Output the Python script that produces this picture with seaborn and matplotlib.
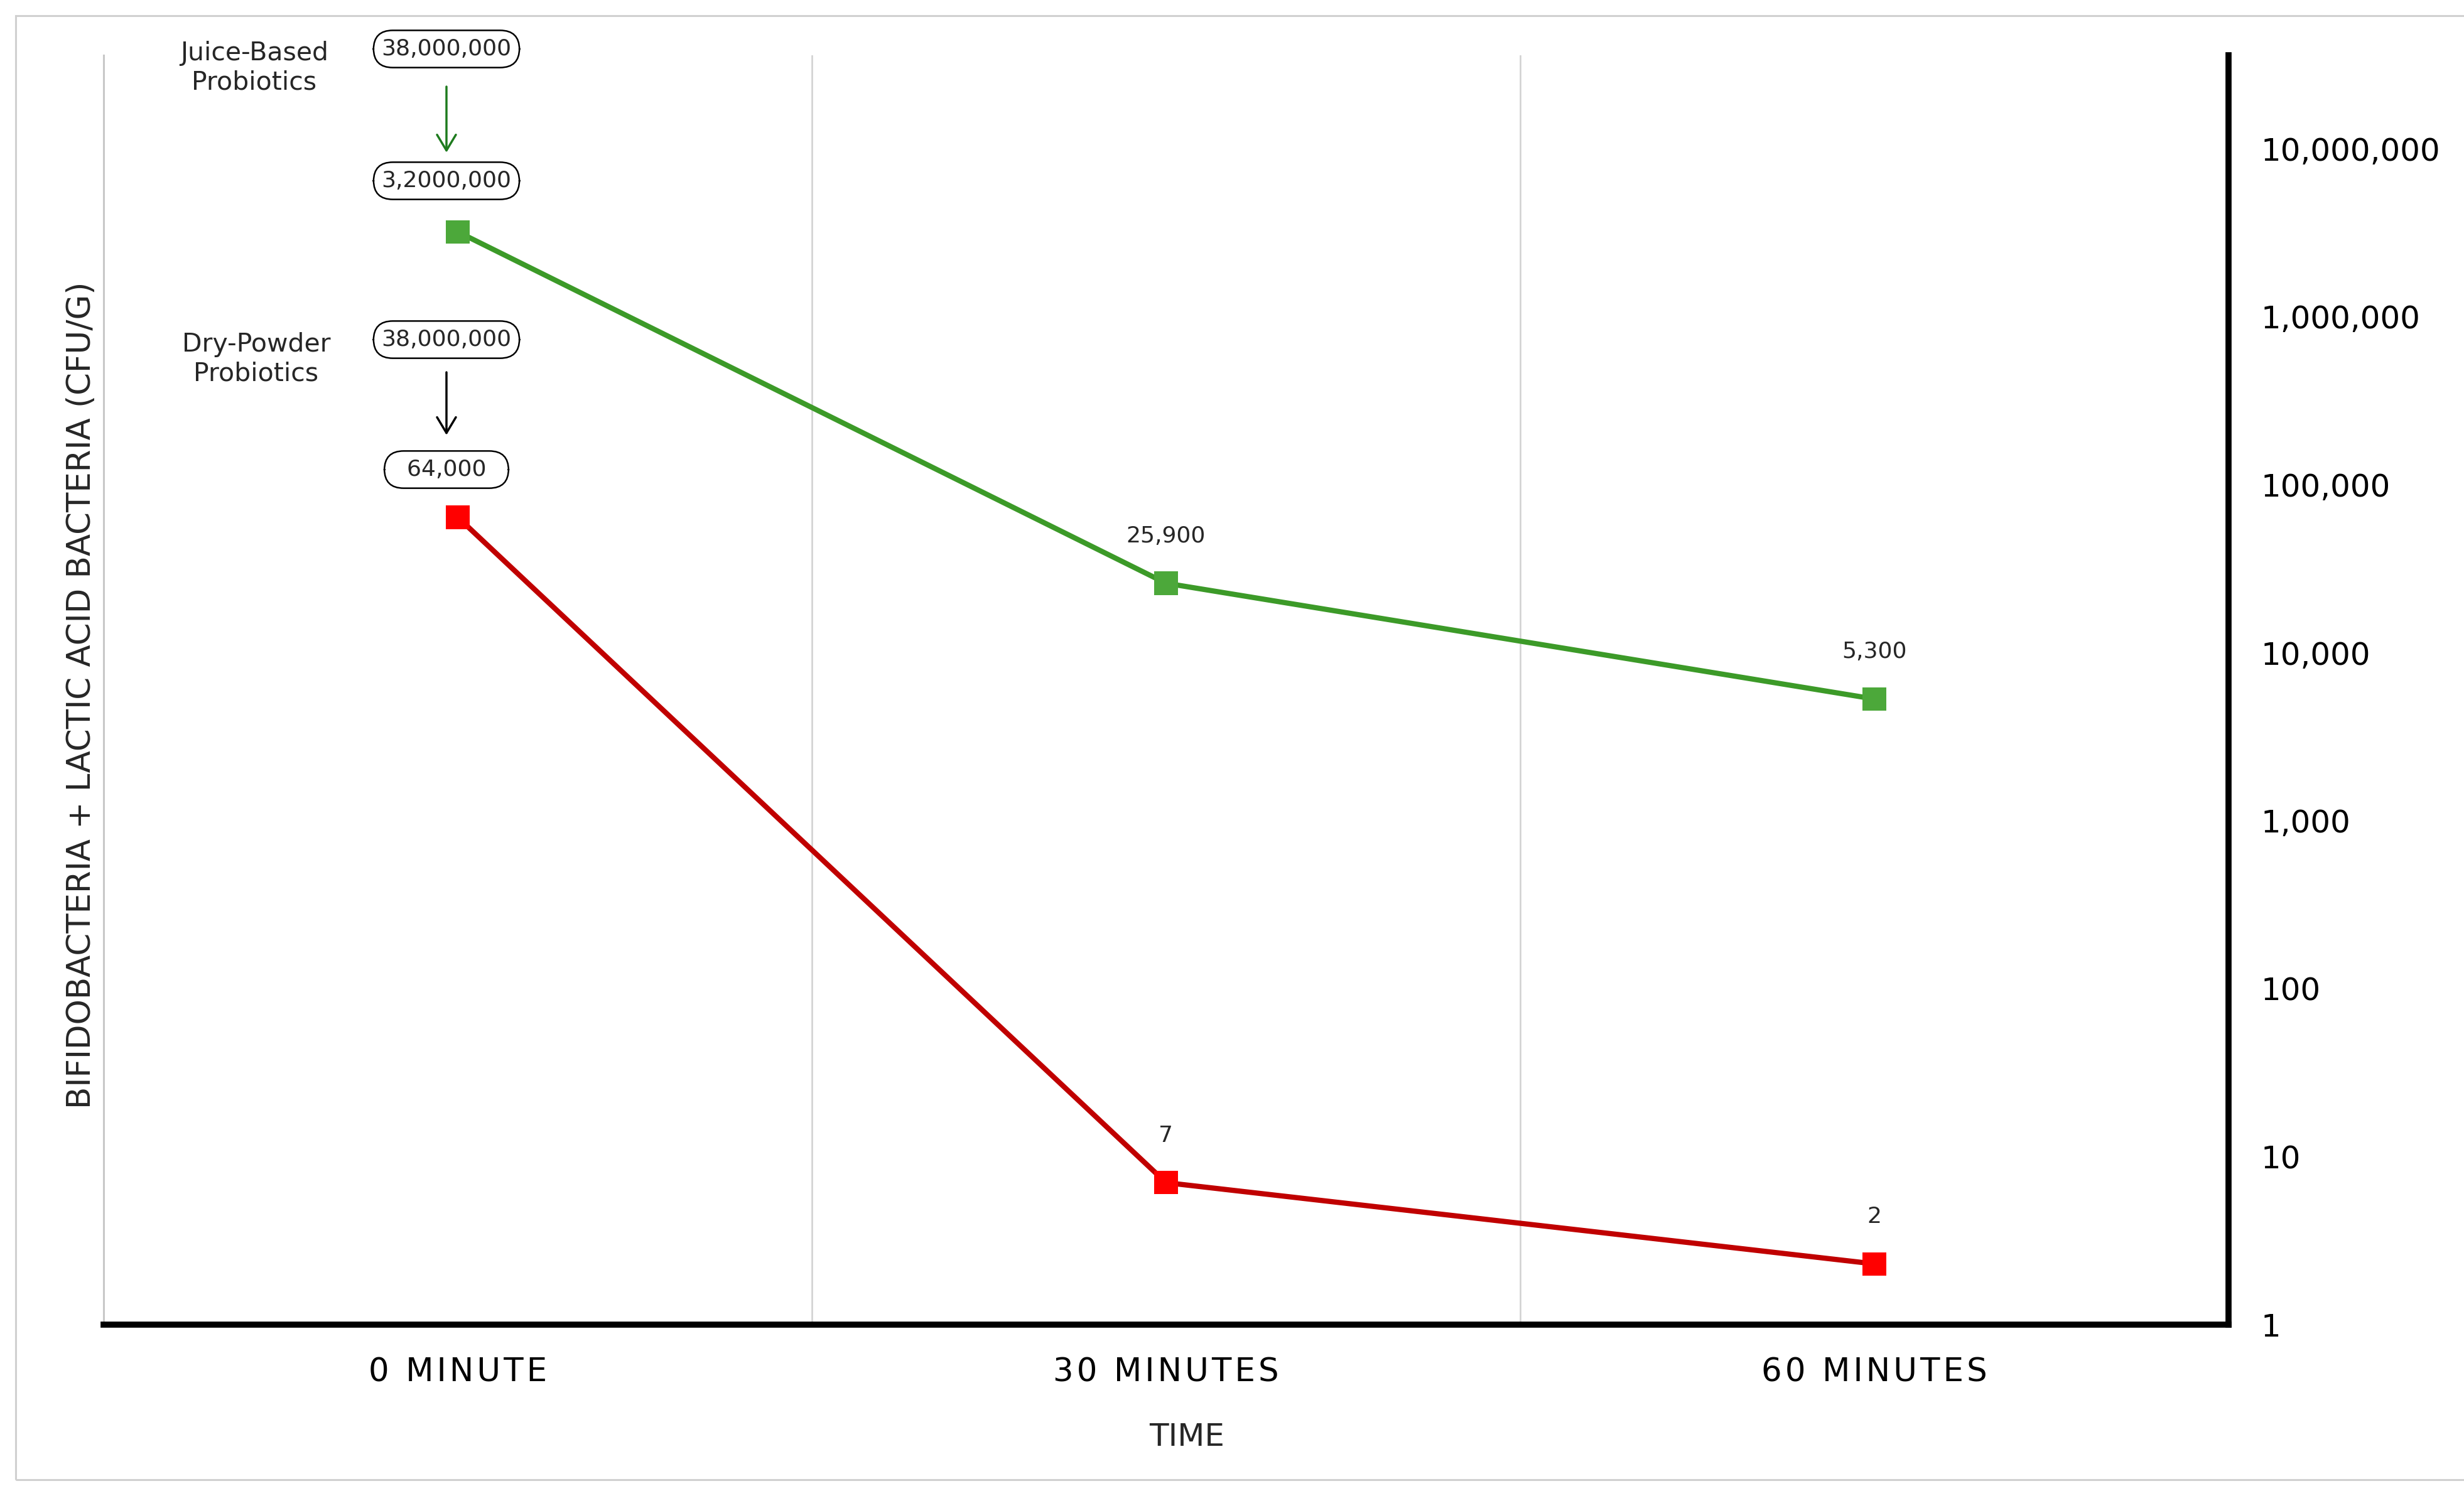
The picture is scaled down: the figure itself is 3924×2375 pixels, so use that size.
import numpy as np
import pandas as pd
import matplotlib
matplotlib.use('Agg')
import matplotlib.pyplot as plt
import matplotlib.ticker as mticker
from matplotlib.patches import Rectangle
import seaborn as sns

# ---------------- data ----------------
times = ['0 MINUTE', '30 MINUTES', '60 MINUTES']
series = ['Juice-Based Probiotics', 'Dry-Powder Probiotics']
juice_cfu = [3200000, 25900, 5300]
powder_cfu = [64000, 7, 2.3]
juice_labels = ['3,2000,000', '25,900', '5,300']
powder_labels = ['64,000', '7', '2']
initial_labels = ['38,000,000', '38,000,000']
ytick_vals = [1, 10, 100, 1000, 10000, 100000, 1000000, 10000000]

df = pd.DataFrame({
    'time': times * 2,
    'cfu': juice_cfu + powder_cfu,
    'product': [series[0]] * 3 + [series[1]] * 3,
})

# ---------------- style ----------------
sns.set_style('white')
plt.rcParams['font.family'] = ['DejaVu Sans']

W, H = 3924, 2375
fig = plt.figure(figsize=(W / 100, H / 100), dpi=100)
ax_l, ax_r, ax_b, ax_t = 165, 3549, 2110, 88  # pixel edges (from top)
ax = fig.add_axes([ax_l / W, 1 - ax_b / H, (ax_r - ax_l) / W, (ax_b - ax_t) / H])

line_pal = {series[0]: '#3C9A28', series[1]: '#C00000'}
mark_pal = {series[0]: '#4CA83A', series[1]: '#FF0000'}

sns.lineplot(data=df, x='time', y='cfu', hue='product', palette=line_pal,
             linewidth=6, legend=False, sort=False, ax=ax, zorder=2)
sns.scatterplot(data=df, x='time', y='cfu', hue='product', palette=mark_pal,
                marker='s', s=720, linewidth=0, legend=False, ax=ax, zorder=3)

ax.set_yscale('log')
ax.set_ylim(1, 3.6e7)
ax.set_xlim(-0.5, 2.5)

# grid lines between categories
for xv in (0.5, 1.5):
    ax.axvline(xv, color='#d0d0d0', lw=1.8, zorder=0)

# y axis on right
ax.yaxis.tick_right()
ax.set_yticks(ytick_vals)
ax.yaxis.set_minor_locator(mticker.NullLocator())
ax.yaxis.set_major_formatter(mticker.FuncFormatter(lambda v, p: f'{v:,.0f}'))
ax.tick_params(axis='y', length=0, pad=37, labelsize=36, labelcolor='black')
ax.set_ylabel('')

def spaced(s):
    return '\u200a'.join(s)

ax.set_xticks(range(len(times)))
ax.set_xticklabels([spaced(t) for t in times])
ax.tick_params(axis='x', length=0, pad=37, labelsize=37, labelcolor='black')
ax.set_xlabel('TIME', fontsize=36)
ax.xaxis.set_label_coords((1890 - ax_l) / (ax_r - ax_l), (ax_b - 2265) / (ax_b - ax_t))

ax.spines['top'].set_visible(False)
ax.spines['left'].set_color('#c8c8c8')
ax.spines['left'].set_linewidth(2.2)
ax.spines['right'].set_color('black')
ax.spines['right'].set_linewidth(7)
ax.spines['bottom'].set_color('black')
ax.spines['bottom'].set_linewidth(7)

# data labels for later time points
for i in (1, 2):
    ax.annotate(juice_labels[i], (i, juice_cfu[i]), xytext=(0, 54),
                textcoords='offset points', ha='center', va='center', fontsize=26)
    ax.annotate(powder_labels[i], (i, powder_cfu[i]), xytext=(0, 54),
                textcoords='offset points', ha='center', va='center', fontsize=26)

# top-left annotations (axes fraction positions)
def fx(px):
    return (px - ax_l) / (ax_r - ax_l)

def fy(py):
    return (ax_b - py) / (ax_b - ax_t)

box = dict(boxstyle='round,pad=0.35,rounding_size=0.85', fc='white', ec='black', lw=1.8)
bx = fx(711)
ax.text(fx(405), fy(108), 'Juice-Based\nProbiotics', transform=ax.transAxes,
        ha='center', va='center', fontsize=29.5, linespacing=1.2, clip_on=False)
ax.text(fx(408), fy(572), 'Dry-Powder\nProbiotics', transform=ax.transAxes,
        ha='center', va='center', fontsize=29.5, linespacing=1.2, clip_on=False)
ax.text(bx, fy(78), initial_labels[0], transform=ax.transAxes, ha='center', va='center',
        fontsize=26, bbox=box, clip_on=False)
ax.text(bx, fy(288), juice_labels[0], transform=ax.transAxes, ha='center', va='center',
        fontsize=26, bbox=box, clip_on=False)
ax.text(bx, fy(541), initial_labels[1], transform=ax.transAxes, ha='center', va='center',
        fontsize=26, bbox=box, clip_on=False)
ax.text(bx, fy(748), '  ' + powder_labels[0] + '  ', transform=ax.transAxes, ha='center',
        va='center', fontsize=26, bbox=box, clip_on=False)

ax.annotate('', xy=(bx, fy(243)), xycoords='axes fraction', xytext=(bx, fy(138)),
            textcoords='axes fraction', annotation_clip=False,
            arrowprops=dict(arrowstyle='->,head_length=0.45,head_width=0.27', color='#1E7B1E',
                            lw=2.5, mutation_scale=40, shrinkA=0, shrinkB=0))
ax.annotate('', xy=(bx, fy(693)), xycoords='axes fraction', xytext=(bx, fy(593)),
            textcoords='axes fraction', annotation_clip=False,
            arrowprops=dict(arrowstyle='->,head_length=0.45,head_width=0.27', color='black',
                            lw=2.5, mutation_scale=40, shrinkA=0, shrinkB=0))

# y label on the left
fig.text(130 / W, 1 - 1107 / H, 'BIFIDOBACTERIA + LACTIC ACID BACTERIA (CFU/G)',
         rotation=90, ha='center', va='center', fontsize=37)

# light gray outer frame
fig.add_artist(Rectangle((25 / W, 18 / H), 1.0, (2350 - 18) / H, transform=fig.transFigure,
                         fill=False, ec='#d0d0d0', lw=2.2))

fig.savefig('out.png', dpi=100)
